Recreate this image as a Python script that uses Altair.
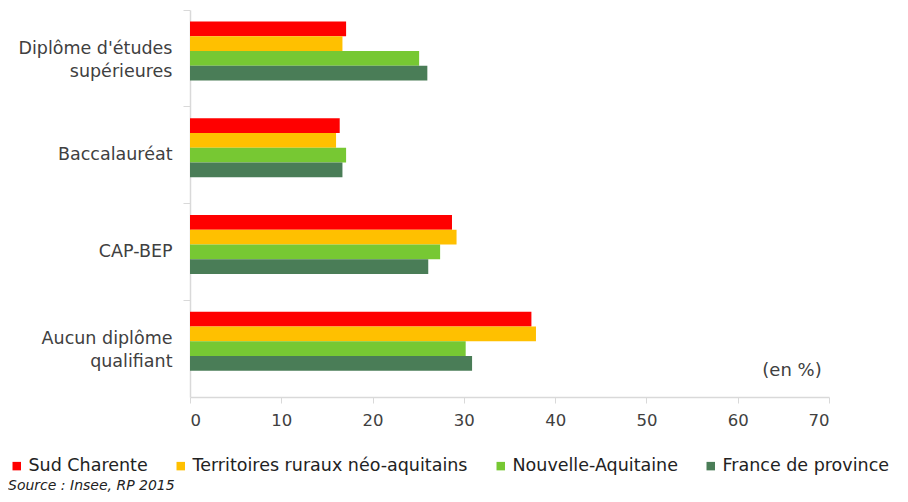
import json
import altair as alt
import pandas as pd

categories = ["Diplôme d'études supérieures", "Baccalauréat", "CAP-BEP", "Aucun diplôme qualifiant"]
series = ["Sud Charente", "Territoires ruraux néo-aquitains", "Nouvelle-Aquitaine", "France de province"]
colors = ["#FF0000", "#FFC000", "#77C833", "#4A7D57"]

sud_charente = [17.1, 16.4, 28.7, 37.4]
territoires_ruraux = [16.7, 16.0, 29.2, 37.9]
nouvelle_aquitaine = [25.1, 17.1, 27.4, 30.2]
france_province = [26.0, 16.7, 26.1, 30.9]

x_ticks = [0, 10, 20, 30, 40, 50, 60, 70]

rows = []
for s, vals in zip(series, [sud_charente, territoires_ruraux, nouvelle_aquitaine, france_province]):
    for c, v in zip(categories, vals):
        rows.append({"categorie": c, "serie": s, "valeur": v})
df = pd.DataFrame(rows)

label_lines = {
    "Diplôme d'études supérieures": ["Diplôme d'études", "supérieures"],
    "Aucun diplôme qualifiant": ["Aucun diplôme", "qualifiant"],
}
expr = "datum.label"
for k, v in label_lines.items():
    expr = f"datum.label == {json.dumps(k, ensure_ascii=False)} ? {json.dumps(v, ensure_ascii=False)} : ({expr})"
multi_test = " || ".join(f"datum.value == {json.dumps(k, ensure_ascii=False)}" for k in label_lines)

FONT = "DejaVu Sans"
GRAY = "#D9D9D9"
TXT = "#404040"

bars = alt.Chart(df).mark_bar().encode(
    x=alt.X("valeur:Q", scale=alt.Scale(domain=[0, 70], nice=False),
            axis=alt.Axis(values=x_ticks, title=None, grid=False, domainColor=GRAY,
                          tickColor=GRAY, tickSize=6, labelPadding=9, labelFontSize=16.5,
                          labelColor=TXT, labelFont=FONT, domainWidth=1.5)),
    y=alt.Y("categorie:N", sort=categories, scale=alt.Scale(paddingInner=0, paddingOuter=0),
            axis=alt.Axis(title=None, bandPosition=0, domainColor=GRAY, tickColor=GRAY,
                          tickSize=7, labelPadding=11, labelFontSize=17.5, labelColor=TXT,
                          labelFont=FONT, labelExpr=expr, labelLineHeight=23,
                          labelOffset={"condition": {"test": multi_test, "value": -9.5}, "value": 0},
                          domainWidth=1.5)),
    yOffset=alt.YOffset("serie:N", scale=alt.Scale(domain=series + ["_vide"], paddingInner=0,
                                                   paddingOuter=0.79)),
    color=alt.Color("serie:N", scale=alt.Scale(domain=series, range=colors),
                    legend=alt.Legend(title=None, orient="none", direction="horizontal",
                                      legendX=-182, legendY=447, symbolType="square",
                                      symbolSize=72, labelFontSize=17.5, labelFont=FONT,
                                      labelColor="#222222", columnPadding=24, labelLimit=500,
                                      labelOffset=3, symbolStrokeWidth=0, padding=0,
                                      symbolOffset=0)),
)

unit = alt.Chart(pd.DataFrame({"t": ["(en %)"]})).mark_text(
    font=FONT, fontSize=18, color=TXT, align="center", baseline="middle"
).encode(text="t:N", x=alt.value(602), y=alt.value(361))

source = alt.Chart(pd.DataFrame({"t": ["Source : Insee, RP 2015"]})).mark_text(
    font=FONT, fontSize=14, fontStyle="italic", color="#222222", align="left", baseline="middle"
).encode(text="t:N", x=alt.value(-182), y=alt.value(476))

chart = alt.layer(bars, unit, source).properties(
    width=639, height=387,
    padding={"left": 182, "top": 2, "right": 71, "bottom": 97},
    autosize=alt.AutoSizeParams(type="none"),
).configure_view(stroke=None)

chart.save("out.html", embed_options={"renderer": "svg", "actions": False})
